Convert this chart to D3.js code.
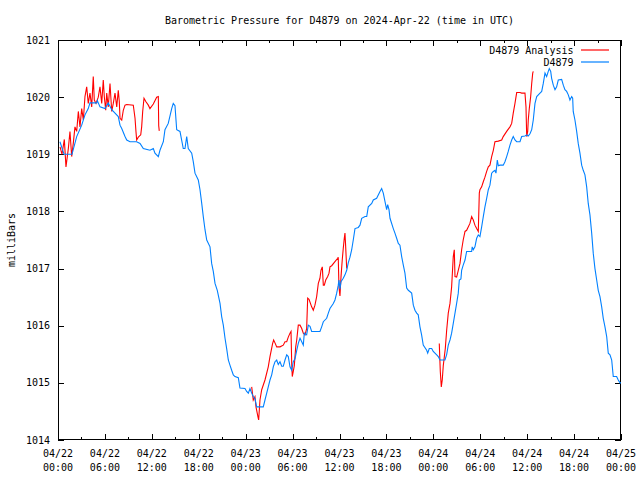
<!DOCTYPE html>
<html><head><meta charset="utf-8">
<script src="https://cdn.jsdelivr.net/npm/d3@7"></script>
<style>
html,body{margin:0;padding:0;background:#fff;}
text{font-family:"DejaVu Sans Mono","Liberation Mono",monospace;font-size:10px;fill:#000;}
</style></head>
<body>
<svg id="chart" width="640" height="480"></svg>
<script>
// ---- data (hours after 2024-04-22 00:00 UTC, pressure in mb) ----
const titleText = "Barometric Pressure for D4879 on 2024-Apr-22 (time in UTC)";
const yLabel = "milliBars";
const seriesNames = ["D4879 Analysis", "D4879"];
const yTicks = [1014, 1015, 1016, 1017, 1018, 1019, 1020, 1021];

const stationObs = [
[0.25,1019.22],[0.77,1019.0],[1.79,1019.0],[2.39,1019.31],[3.03,1019.51],[3.45,1019.69],[3.87,1019.8],[4.09,1019.9],
[4.95,1019.9],[5.03,1019.94],[5.37,1019.83],[6.01,1019.8],[6.43,1019.9],[6.87,1019.78],[7.29,1019.72],[7.71,1019.66],
[7.93,1019.51],[8.15,1019.45],[8.57,1019.31],[8.79,1019.25],[9.21,1019.22],[10.06,1019.22],[10.49,1019.19],[10.91,1019.1],
[11.76,1019.07],[12.19,1019.1],[12.40,1019.02],[12.83,1018.96],[13.04,1019.07],[13.47,1019.22],[13.68,1019.43],[14.10,1019.54],
[14.54,1019.8],[14.74,1019.89],[14.96,1019.85],[15.18,1019.43],[15.60,1019.4],[16.02,1019.1],[16.24,1019.1],[16.46,1019.31],
[16.66,1019.1],[17.10,1019.02],[17.30,1018.87],[17.52,1018.67],[17.94,1018.55],[18.16,1018.38],[18.38,1018.14],[18.58,1017.91],
[18.80,1017.68],[19.02,1017.5],[19.44,1017.38],[19.65,1017.09],[19.86,1016.95],[20.08,1016.74],[20.37,1016.62],[20.72,1016.39],
[20.93,1016.16],[21.14,1016.01],[21.36,1015.78],[21.57,1015.6],[21.78,1015.4],[21.99,1015.31],[22.21,1015.22],[22.42,1015.14],
[22.63,1015.11],[23.06,1015.09],[23.27,1014.91],[23.91,1014.9],[24.13,1014.85],[24.34,1014.82],[24.55,1014.9],[24.77,1014.82],
[24.97,1014.76],[25.19,1014.72],[25.41,1014.58],[26.25,1014.58],[26.47,1014.7],[26.69,1014.82],[26.89,1014.93],[27.11,1015.05],
[27.33,1015.14],[27.53,1015.28],[27.75,1015.37],[27.97,1015.4],[28.17,1015.32],[28.39,1015.37],[28.61,1015.29],[28.81,1015.29],
[29.03,1015.4],[29.25,1015.49],[29.45,1015.46],[29.67,1015.28],[29.89,1015.22],[30.09,1015.37],[30.31,1015.42],[30.53,1015.57],
[30.73,1015.69],[30.95,1015.78],[31.17,1015.72],[31.37,1015.66],[31.50,1015.87],[31.80,1015.84],[32.01,1016.01],[32.23,1015.99],
[32.44,1015.9],[33.50,1015.9],[33.72,1015.98],[33.93,1016.07],[34.36,1016.13],[34.57,1016.22],[34.78,1016.3],[35.21,1016.39],
[35.42,1016.45],[35.64,1016.57],[35.84,1016.71],[35.93,1016.8],[36.06,1016.64],[36.19,1016.77],[36.48,1016.83],[36.70,1016.89],
[36.92,1016.97],[37.12,1017.1],[37.34,1017.2],[37.56,1017.33],[37.76,1017.5],[37.98,1017.7],[38.40,1017.72],[38.62,1017.76],
[38.84,1017.88],[39.26,1017.91],[39.48,1017.91],[39.68,1018.08],[40.12,1018.14],[40.32,1018.2],[40.75,1018.23],[41.18,1018.35],
[41.39,1018.4],[41.60,1018.32],[41.82,1018.17],[42.03,1018.03],[42.16,1018.12],[42.33,1018.03],[42.46,1017.88],[42.88,1017.7],
[43.09,1017.62],[43.31,1017.53],[43.52,1017.44],[43.73,1017.41],[43.95,1017.21],[44.16,1017.06],[44.37,1016.92],[44.59,1016.66],
[44.80,1016.62],[45.23,1016.57],[45.44,1016.36],[45.65,1016.27],[45.87,1016.22],[46.07,1016.19],[46.29,1015.98],[46.50,1015.84],
[46.71,1015.66],[47.15,1015.57],[47.28,1015.52],[47.48,1015.6],[47.79,1015.6],[47.99,1015.55],[48.43,1015.49],[48.63,1015.46],
[48.85,1015.4],[49.49,1015.4],[49.71,1015.5],[49.91,1015.66],[50.13,1015.75],[50.34,1015.87],[50.55,1016.04],[50.77,1016.22],
[50.98,1016.39],[51.19,1016.57],[51.32,1016.8],[51.53,1016.82],[51.62,1016.97],[51.82,1017.06],[52.05,1017.15],[52.26,1017.3],
[52.90,1017.3],[52.97,1017.38],[53.11,1017.33],[53.32,1017.38],[53.54,1017.53],[53.75,1017.59],[53.96,1017.56],[54.18,1017.73],
[54.39,1017.91],[54.60,1018.08],[54.82,1018.23],[55.03,1018.38],[55.24,1018.46],[55.46,1018.67],[55.67,1018.7],[55.88,1018.72],
[56.01,1018.67],[56.18,1018.9],[56.31,1018.8],[56.52,1018.81],[56.94,1018.81],[57.16,1018.87],[57.38,1018.96],[57.58,1019.05],
[57.80,1019.16],[58.02,1019.25],[58.22,1019.31],[58.44,1019.25],[58.66,1019.22],[59.08,1019.22],[59.30,1019.31],[59.72,1019.32],
[59.94,1019.34],[60.14,1019.32],[60.36,1019.36],[60.58,1019.43],[60.78,1019.6],[61.00,1019.89],[61.22,1020.01],[61.64,1020.07],
[61.86,1020.1],[62.06,1020.24],[62.28,1020.42],[62.49,1020.36],[62.70,1020.45],[62.83,1020.5],[63.01,1020.45],[63.13,1020.33],
[63.34,1020.21],[63.56,1020.13],[63.77,1020.18],[63.98,1020.3],[64.41,1020.31],[64.62,1020.21],[64.83,1020.13],[65.05,1020.1],
[65.26,1020.04],[65.47,1019.95],[65.69,1020.01],[65.82,1019.98],[65.89,1019.75],[66.11,1019.6],[66.33,1019.4],[66.53,1019.19],
[66.75,1019.02],[66.97,1018.81],[67.17,1018.72],[67.39,1018.64],[67.61,1018.43],[67.81,1018.14],[68.03,1017.94],[68.25,1017.62],
[68.45,1017.27],[68.67,1017.0],[68.89,1016.8],[69.09,1016.62],[69.31,1016.51],[69.53,1016.33],[69.73,1016.13],[69.95,1015.98],
[70.17,1015.81],[70.37,1015.52],[70.59,1015.49],[70.81,1015.4],[71.01,1015.11],[71.44,1015.11],[71.65,1015.05],[71.87,1015.0],
[72.0,1015.0]
];

// null marks a gap in the analysis series
const analysisObs = [
[0.26,1019.13],[0.51,1019.0],[0.81,1019.26],[1.02,1018.78],[1.32,1019.1],[1.53,1019.4],[1.75,1018.96],[1.96,1019.2],
[2.17,1019.48],[2.39,1019.4],[2.60,1019.75],[2.81,1019.48],[3.03,1019.8],[3.24,1019.6],[3.45,1020.01],[3.67,1020.18],
[3.87,1019.89],[4.09,1020.07],[4.31,1019.83],[4.51,1020.36],[4.64,1019.95],[4.86,1019.89],[5.15,1020.0],[5.37,1020.18],
[5.59,1019.89],[5.79,1020.3],[5.92,1020.01],[6.10,1019.77],[6.23,1020.07],[6.43,1019.83],[6.65,1020.24],[6.87,1019.75],
[7.07,1019.89],[7.29,1020.07],[7.51,1019.83],[7.71,1020.12],[7.84,1019.92],[7.93,1019.63],[8.15,1019.6],[8.35,1019.77],
[8.57,1019.86],[8.79,1019.87],[9.63,1019.86],[9.85,1019.63],[9.97,1019.4],[10.06,1019.25],[10.27,1019.3],[10.58,1019.34],
[10.70,1019.48],[10.83,1019.75],[11.00,1019.98],[11.25,1019.92],[11.55,1019.86],[11.76,1019.8],[12.19,1019.88],[12.62,1020.0],
[12.83,1020.01],[12.88,1019.5],[12.95,1019.41],
[18.0,null],
[24.77,1014.93],[24.97,1014.7],[25.19,1014.76],[25.32,1014.58],[25.58,1014.4],[25.66,1014.35],[25.83,1014.7],[26.05,1014.88],
[26.47,1015.05],[26.89,1015.28],[27.11,1015.46],[27.45,1015.69],[27.58,1015.75],[27.75,1015.7],[27.97,1015.63],[28.39,1015.63],
[28.81,1015.66],[29.03,1015.72],[29.25,1015.72],[29.45,1015.8],[29.67,1015.87],[29.80,1015.9],[29.89,1015.34],[29.96,1015.11],
[30.09,1015.2],[30.22,1015.3],[30.40,1015.63],[30.53,1015.75],[30.73,1016.01],[30.95,1016.01],[31.17,1015.95],[31.37,1015.87],
[31.59,1015.84],[31.80,1015.95],[31.93,1016.48],[32.10,1016.46],[32.44,1016.33],[32.65,1016.27],[32.86,1016.36],[33.08,1016.51],
[33.29,1016.74],[33.50,1016.83],[33.63,1016.97],[33.80,1017.03],[33.93,1016.71],[34.06,1016.71],[34.24,1016.8],[34.49,1016.86],
[34.66,1016.92],[34.78,1017.03],[35.00,1017.05],[35.42,1017.12],[35.77,1017.18],[35.84,1017.2],[35.93,1016.68],[36.06,1016.52],
[36.19,1016.85],[36.35,1017.15],[36.48,1017.35],[36.61,1017.53],[36.70,1017.62],[36.79,1017.38],[36.92,1017.0],
[42.0,null],
[48.76,1015.69],[48.89,1015.2],[49.02,1014.93],[49.14,1015.05],[49.27,1015.3],[49.40,1015.45],[49.53,1015.6],[49.71,1015.93],
[49.91,1016.22],[50.13,1016.39],[50.34,1016.68],[50.55,1017.21],[50.68,1017.33],[50.77,1016.86],[50.98,1016.85],[51.19,1016.97],
[51.41,1017.09],[51.62,1017.33],[51.82,1017.5],[52.05,1017.65],[52.26,1017.67],[52.68,1017.79],[52.90,1017.91],[53.11,1017.85],
[53.32,1017.76],[53.54,1017.7],[53.75,1017.65],[53.88,1018.32],[53.96,1018.38],[54.18,1018.43],[54.39,1018.52],[54.60,1018.6],
[54.82,1018.7],[55.03,1018.78],[55.24,1018.81],[55.46,1018.96],[55.67,1019.07],[55.88,1019.22],[56.31,1019.23],[56.74,1019.25],
[56.94,1019.31],[57.38,1019.4],[57.80,1019.48],[58.02,1019.54],[58.22,1019.72],[58.44,1019.89],[58.66,1020.08],[59.08,1020.08],
[59.30,1020.07],[59.72,1020.07],[59.85,1019.83],[59.94,1019.31],[60.07,1019.4],[60.14,1019.6],[60.27,1019.8],[60.45,1020.01],
[60.58,1020.24],[60.71,1020.42],[60.78,1020.45]
];

// ---- chart ----
const W = 640, H = 480;
const margin = {left: 58, right: 19, top: 40, bottom: 40};
const t0 = Date.UTC(2024, 3, 22);
const toDate = h => new Date(t0 + h * 3600000);

const svg = d3.select("#chart");
const x = d3.scaleUtc().domain([toDate(0), toDate(72)]).range([margin.left, W - margin.right]);
const y = d3.scaleLinear().domain([1014, 1021]).range([H - margin.bottom, margin.top]);

const major = x.ticks(d3.utcHour.every(6));
const minor = x.ticks(d3.utcHour.every(3)).filter(d => d.getUTCHours() % 6 !== 0);

function tickAxis(axisFn, scale, values, size, transform) {
  const g = svg.append("g").attr("transform", transform)
    .call(axisFn(scale).tickValues(values).tickSizeInner(size).tickSizeOuter(0).tickFormat(""));
  g.select(".domain").remove();
  g.selectAll("line").attr("stroke", "#000").attr("shape-rendering", "crispEdges");
  g.selectAll("text").remove();
  return g;
}
const yB = H - margin.bottom, yT = margin.top, xL = margin.left, xR = W - margin.right;
tickAxis(d3.axisBottom, x, major, -6, `translate(0,${yB})`);
tickAxis(d3.axisBottom, x, minor, -3, `translate(0,${yB})`);
tickAxis(d3.axisTop, x, major, -6, `translate(0,${yT})`);
tickAxis(d3.axisTop, x, minor, -3, `translate(0,${yT})`);
tickAxis(d3.axisLeft, y, yTicks, -6, `translate(${xL},0)`);
tickAxis(d3.axisRight, y, yTicks, -6, `translate(${xR},0)`);

// y tick labels
svg.append("g").selectAll("text").data(yTicks).join("text")
  .attr("x", xL - 8).attr("y", d => y(d)).attr("dy", "0.35em")
  .attr("text-anchor", "end").text(d => d3.format("d")(d));

// x tick labels (two lines)
const fmtDay = d3.utcFormat("%m/%d"), fmtTime = d3.utcFormat("%H:%M");
const xl = svg.append("g").selectAll("text").data(major).join("text")
  .attr("text-anchor", "middle");
xl.append("tspan").attr("x", d => x(d)).attr("y", yB + 17).text(d => fmtDay(d));
xl.append("tspan").attr("x", d => x(d)).attr("y", yB + 31).text(d => fmtTime(d));

// border
svg.append("rect").attr("x", xL + 0.5).attr("y", yT + 0.5)
  .attr("width", xR - xL - 1).attr("height", yB - yT - 1)
  .attr("fill", "none").attr("stroke", "#000").attr("shape-rendering", "crispEdges");

// lines
const colors = ["#ff0000", "#0080ff"];
const line = d3.line().defined(d => d[1] != null)
  .x(d => x(toDate(d[0]))).y(d => y(d[1]));
svg.append("path").datum(analysisObs).attr("d", line)
  .attr("fill", "none").attr("stroke", colors[0]).attr("stroke-width", 1.1);
svg.append("path").datum(stationObs).attr("d", line)
  .attr("fill", "none").attr("stroke", colors[1]).attr("stroke-width", 1.1);

// title & axis label
svg.append("text").attr("x", (xL + xR) / 2).attr("y", 24).attr("text-anchor", "middle").text(titleText);
svg.append("text").attr("transform", `translate(15,${(yT + yB) / 2}) rotate(-90)`)
  .attr("text-anchor", "middle").text(yLabel);

// legend
seriesNames.forEach((name, i) => {
  const g = svg.append("g").attr("transform", `translate(0,${53.5 + i * 12})`);
  g.append("text").attr("x", 573.5).attr("y", 0).attr("text-anchor", "end").text(name);
  g.append("line").attr("x1", 581).attr("x2", 609).attr("y1", -3.5).attr("y2", -3.5)
    .attr("stroke", colors[i]).attr("stroke-width", 1.2);
});
</script>
</body></html>
